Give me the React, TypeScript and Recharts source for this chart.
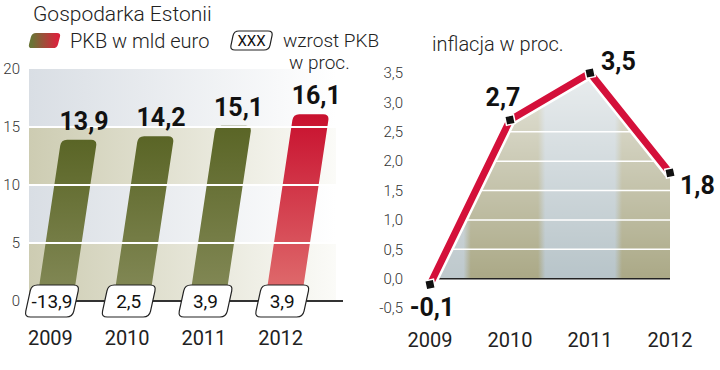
import React from 'react';
import {
  BarChart, Bar, XAxis, YAxis, ReferenceArea, ReferenceLine, LabelList, Cell,
  ComposedChart, Line, Area,
} from 'recharts';

// ---------- data ----------
const years = ['2009', '2010', '2011', '2012'];
const gdpBillionEur = [13.9, 14.2, 15.1, 16.1];
const gdpGrowthPct = [-13.9, 2.5, 3.9, 3.9];
const inflationPct = [-0.1, 2.7, 3.5, 1.8];
const gdpTicks = [0, 5, 10, 15, 20];
const inflationTicks = [-0.5, 0, 0.5, 1, 1.5, 2, 2.5, 3, 3.5];

const title = 'Gospodarka Estonii';
const legendGdp = 'PKB w mld euro';
const legendBox = 'XXX';
const legendGrowth1 = 'wzrost PKB';
const legendGrowth2 = 'w proc.';
const inflationTitle = 'inflacja w proc.';

const barData = years.map((year, i) => ({ year, gdp: gdpBillionEur[i], growth: gdpGrowthPct[i] }));
const lineData = years.map((year, i) => ({ year, inflation: inflationPct[i] }));

const fmt = (v: number) => v.toFixed(1).replace('.', ',');
const FONT = 'Roboto, "DejaVu Sans", sans-serif';
const SKEW = 0.15;

function roundedPoly(pts: number[][], r: number) {
  const n = pts.length;
  let d = '';
  for (let i = 0; i < n; i++) {
    const p = pts[i];
    const prev = pts[(i - 1 + n) % n];
    const next = pts[(i + 1) % n];
    const v1 = [prev[0] - p[0], prev[1] - p[1]];
    const v2 = [next[0] - p[0], next[1] - p[1]];
    const l1 = Math.hypot(v1[0], v1[1]);
    const l2 = Math.hypot(v2[0], v2[1]);
    const a = [p[0] + (v1[0] / l1) * r, p[1] + (v1[1] / l1) * r];
    const b = [p[0] + (v2[0] / l2) * r, p[1] + (v2[1] / l2) * r];
    d += `${i === 0 ? 'M' : 'L'}${a[0]},${a[1]} Q${p[0]},${p[1]} ${b[0]},${b[1]} `;
  }
  return d + 'Z';
}

function SlantBar(props: any) {
  const { x, y, width, height, fill } = props;
  if (!height || height <= 0) return null;
  const s = height * SKEW;
  const yb = y + height;
  const k = s / height;
  const r = 6;
  const xl0 = x - s / 2, xl1 = x + s / 2, xr1 = x + width + s / 2, xr0 = x + width - s / 2;
  const d = `M${xl0},${yb} L${xl1 - k * r},${y + r} Q${xl1},${y} ${xl1 + r},${y} L${xr1 - r},${y} Q${xr1},${y} ${xr1 - k * r},${y + r} L${xr0},${yb} Z`;
  return <path d={d} fill={fill} />;
}

function BarValueLabel(props: any) {
  const vb = props.viewBox || props;
  const x = props.x ?? vb.x;
  const y = props.y ?? vb.y;
  const width = props.width ?? vb.width;
  const height = props.height ?? vb.height;
  const s = height * SKEW;
  return (
    <text x={x + width / 2 + s / 2 + 5} y={y - 10} textAnchor="middle" fontFamily={FONT}
      fontWeight={700} fontSize={25} fill="#111">{fmt(Number(props.value))}</text>
  );
}

function GrowthBox(props: any) {
  const vb = props.viewBox || props;
  const x = props.x ?? vb.x;
  const y = props.y ?? vb.y;
  const width = props.width ?? vb.width;
  const height = props.height ?? vb.height;
  const cx = x + width / 2 - 15;
  const cy = y + height;
  const w = 48, h = 32, sk = 3.5;
  const pts = [
    [cx - w / 2 - sk, cy + h / 2],
    [cx - w / 2 + sk, cy - h / 2],
    [cx + w / 2 + sk, cy - h / 2],
    [cx + w / 2 - sk, cy + h / 2],
  ];
  return (
    <g>
      <path d={roundedPoly(pts, 6)} fill="#fff" stroke="#222" strokeWidth={1.2} />
      <text x={cx} y={cy + 7} textAnchor="middle" fontFamily={FONT} fontSize={19} fill="#111">
        {fmt(Number(props.value))}
      </text>
    </g>
  );
}

function YearTick(props: any) {
  const { x, y, payload, shift = 0 } = props;
  return (
    <text x={x + shift} y={y} dy="0.71em" textAnchor="middle" fontFamily={FONT} fontSize={20} fill="#222">
      {payload.value}
    </text>
  );
}

function InflationDot(props: any) {
  const { cx, cy, index } = props;
  if (cx == null || cy == null) return null;
  return (
    <rect key={`d${index}`} x={cx - 4.5} y={cy - 4.5} width={9} height={9} fill="#111" stroke="#fff"
      strokeWidth={1.5} transform={`rotate(-12 ${cx} ${cy})`} />
  );
}

function InflationLabel(props: any) {
  const vb = props.viewBox || props;
  const x = props.x ?? vb.x;
  const y = props.y ?? vb.y;
  const index = props.index;
  const v = Number(props.value);
  const maxV = Math.max(...inflationPct);
  let tx = x, ty = y, anchor: any = 'middle';
  if (index === 0) { tx = x + 2; ty = y + 31; }
  else if (index === inflationPct.length - 1) { tx = x + 10; ty = y + 21; anchor = 'start'; }
  else if (v === maxV) { tx = x + 11; ty = y - 3; anchor = 'start'; }
  else { tx = x - 7; ty = y - 14; }
  return (
    <text x={tx} y={ty} textAnchor={anchor} fontFamily={FONT} fontWeight={700} fontSize={25} fill="#111">
      {fmt(v)}
    </text>
  );
}

const tickStyle = { fontFamily: FONT, fontSize: 15, fontWeight: 300, fill: '#333' };

export default function App() {
  return (
    <div style={{ position: 'absolute', left: 0, top: 0, width: 720, height: 370, background: '#fff', overflow: 'hidden' }}>
      <svg width={0} height={0} style={{ position: 'absolute' }}>
        <defs>
          <linearGradient id="olive" x1="0" y1="0" x2="0" y2="1">
            <stop offset="0%" stopColor="#5a6526" />
            <stop offset="100%" stopColor="#848a58" />
          </linearGradient>
          <linearGradient id="redBar" x1="0" y1="0" x2="0" y2="1">
            <stop offset="0%" stopColor="#c8102e" />
            <stop offset="100%" stopColor="#e07070" />
          </linearGradient>
          <linearGradient id="grayBand" x1="0" y1="0" x2="1" y2="0">
            <stop offset="0%" stopColor="#d9dee4" />
            <stop offset="100%" stopColor="#ffffff" />
          </linearGradient>
          <linearGradient id="beigeBand" x1="0" y1="0" x2="1" y2="0">
            <stop offset="0%" stopColor="#cdccb2" />
            <stop offset="100%" stopColor="#fbfbf8" />
          </linearGradient>
          <linearGradient id="legendSwatch" x1="0" y1="0" x2="1" y2="0">
            <stop offset="10%" stopColor="#6a7436" />
            <stop offset="90%" stopColor="#d8243c" />
          </linearGradient>
          <linearGradient id="inflBands" x1="0" y1="0" x2="1" y2="0">
            <stop offset="0%" stopColor="#bcc7cb" />
            <stop offset="14%" stopColor="#bcc7cb" />
            <stop offset="17%" stopColor="#a9a784" />
            <stop offset="45%" stopColor="#a9a784" />
            <stop offset="48%" stopColor="#b6c3c8" />
            <stop offset="77%" stopColor="#b6c3c8" />
            <stop offset="80%" stopColor="#a9a784" />
            <stop offset="100%" stopColor="#a9a784" />
          </linearGradient>
          <linearGradient id="inflFade" x1="0" y1="0" x2="0" y2="1">
            <stop offset="0%" stopColor="#ffffff" stopOpacity={0.7} />
            <stop offset="100%" stopColor="#ffffff" stopOpacity={0} />
          </linearGradient>
        </defs>
      </svg>

      {/* Left chart: GDP */}
      <div style={{ position: 'absolute', left: 0, top: 0 }}>
        <BarChart width={360} height={370} data={barData} margin={{ top: 69, right: 17, bottom: 0, left: 0 }} barSize={36}>
          <XAxis dataKey="year" height={69} axisLine={false} tickLine={false} tickSize={0} tickMargin={30}
            padding={{ left: 0, right: 7 }} tick={(p: any) => <YearTick {...p} shift={-17} />} interval={0} />
          <YAxis domain={[0, 20]} ticks={gdpTicks} width={29} axisLine={false} tickLine={false} tickSize={0}
            tickMargin={9} tick={tickStyle} />
          {gdpTicks.slice(0, -1).map((t, i) => (
            <ReferenceArea key={`ra${t}`} y1={t} y2={gdpTicks[i + 1]} fill={i % 2 === 0 ? 'url(#beigeBand)' : 'url(#grayBand)'}
              fillOpacity={1} stroke="none" ifOverflow="hidden" />
          ))}
          {gdpTicks.slice(1, -1).map((t) => (
            <ReferenceLine key={`rl${t}`} y={t} stroke="#ffffff" strokeWidth={2} />
          ))}
          <ReferenceLine y={0} stroke="#333" strokeWidth={2} />
          <Bar dataKey="gdp" shape={SlantBar} isAnimationActive={false}>
            {barData.map((d, i) => (
              <Cell key={d.year} fill={i === barData.length - 1 ? 'url(#redBar)' : 'url(#olive)'} />
            ))}
            <LabelList dataKey="gdp" content={BarValueLabel} />
            <LabelList dataKey="growth" content={GrowthBox} />
          </Bar>
        </BarChart>
      </div>

      {/* Right chart: inflation */}
      <div style={{ position: 'absolute', left: 360, top: 0 }}>
        <ComposedChart width={360} height={370} data={lineData} margin={{ top: 73, right: 30, bottom: 0, left: 0 }}>
          <XAxis dataKey="year" height={62} axisLine={false} tickLine={false} tickSize={0} tickMargin={25}
            padding={{ left: 22, right: 20 }} tick={(p: any) => <YearTick {...p} shift={0} />} interval={0} />
          <YAxis domain={[-0.5, 3.5]} ticks={inflationTicks} width={48} axisLine={false} tickLine={false}
            tickSize={0} tickMargin={5} tick={tickStyle} tickFormatter={(v: number) => fmt(v)} />
          <Area dataKey="inflation" baseValue={0} type="linear" fill="url(#inflBands)" fillOpacity={1} stroke="none"
            isAnimationActive={false} dot={false} activeDot={false} />
          <Area dataKey="inflation" baseValue={0} type="linear" fill="url(#inflFade)" fillOpacity={1} stroke="none"
            isAnimationActive={false} dot={false} activeDot={false} />
          {inflationTicks.filter((t) => t > 0 && t <= 2.5).map((t) => (
            <ReferenceLine key={`g${t}`} y={t} stroke="#ffffff" strokeWidth={1.5} zIndex={150} />
          ))}
          <ReferenceLine segment={[{ x: years[0], y: 0 }, { x: years[years.length - 1], y: 0 }]} stroke="#222"
            strokeWidth={1.5} zIndex={160} />
          <Line dataKey="inflation" type="linear" stroke="#ffffff" strokeWidth={12} dot={false} activeDot={false}
            isAnimationActive={false} strokeLinejoin="round" />
          <Line dataKey="inflation" type="linear" stroke="#d4103a" strokeWidth={7} dot={InflationDot} activeDot={false}
            isAnimationActive={false} strokeLinejoin="round">
            <LabelList dataKey="inflation" content={InflationLabel} />
          </Line>
        </ComposedChart>
      </div>

      {/* Titles and legend */}
      <svg width={720} height={80} style={{ position: 'absolute', left: 0, top: 0, pointerEvents: 'none' }}>
        <text x={33} y={21} fontFamily={FONT} fontWeight={300} fontSize={21} fill="#222">{title}</text>
        <path d={roundedPoly([[28, 48], [32, 33], [61, 33], [57, 48]], 4)} fill="url(#legendSwatch)" />
        <text x={70} y={48} fontFamily={FONT} fontWeight={300} fontSize={20} fill="#222">{legendGdp}</text>
        <path d={roundedPoly([[230, 50], [234, 31], [273, 31], [269, 50]], 5)} fill="#fff" stroke="#222" strokeWidth={1.2} />
        <text x={251.5} y={46} textAnchor="middle" fontFamily={FONT} fontWeight={400} fontSize={15} fill="#111">{legendBox}</text>
        <text x={283} y={47} fontFamily={FONT} fontWeight={300} fontSize={19} fill="#222">{legendGrowth1}</text>
        <text x={289} y={69} fontFamily={FONT} fontWeight={300} fontSize={19} fill="#222">{legendGrowth2}</text>
        <text x={432} y={51} fontFamily={FONT} fontWeight={300} fontSize={20} fill="#222">{inflationTitle}</text>
      </svg>
    </div>
  );
}
